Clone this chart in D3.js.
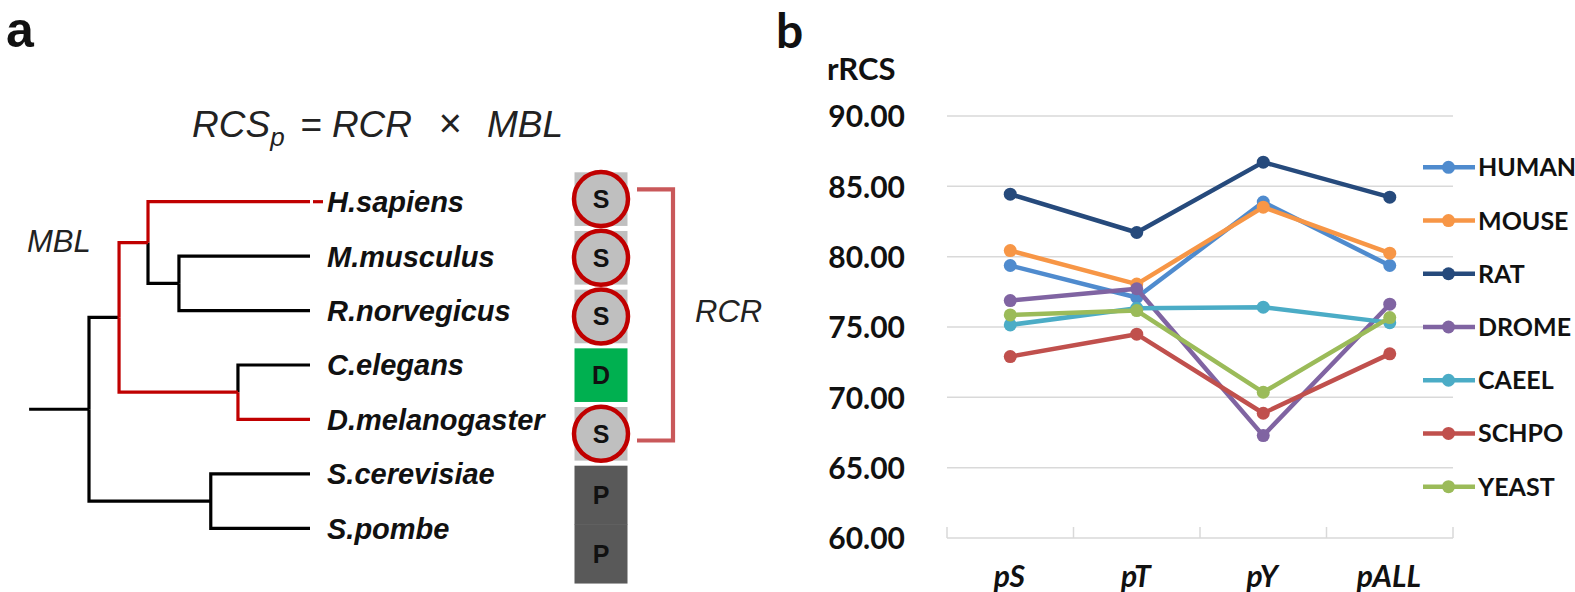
<!DOCTYPE html>
<html>
<head>
<meta charset="utf-8">
<script src="https://cdn.jsdelivr.net/npm/d3@7"></script>
<style>
  html, body { margin: 0; padding: 0; background: #fff; }
  svg { display: block; }
</style>
</head>
<body>
<svg id="chart" width="1575" height="592"></svg>
<script>
// ---------------- DATA ----------------
// Panel a: phylogenetic tree (branch lengths, relative units)
const treeData = {
  name: "root", len: 0.271, children: [
    { name: "A", len: 0.136, children: [
      { name: "Mam", len: 0.131, children: [
        { name: "H.sapiens", len: 0.733 },
        { name: "MR", len: 0.140, children: [
          { name: "M.musculus", len: 0.593 },
          { name: "R.norvegicus", len: 0.593 }
        ]}
      ]},
      { name: "CD", len: 0.538, children: [
        { name: "C.elegans", len: 0.326 },
        { name: "D.melanogaster", len: 0.326 }
      ]}
    ]},
    { name: "Y", len: 0.551, children: [
      { name: "S.cerevisiae", len: 0.449 },
      { name: "S.pombe", len: 0.449 }
    ]}
  ]
};
const highlightPair = ["H.sapiens", "D.melanogaster"];
const residueLetters = ["S", "S", "S", "D", "S", "P", "P"];
const conservedResidue = "S";

// Panel b: rRCS line chart
const categories = ["pS", "pT", "pY", "pALL"];
const seriesNames = ["HUMAN", "MOUSE", "RAT", "DROME", "CAEEL", "SCHPO", "YEAST"];
const HUMAN = [79.37, 77.10, 83.88, 79.37];
const MOUSE = [80.43, 78.05, 83.52, 80.25];
const RAT   = [84.44, 81.72, 86.72, 84.23];
const DROME = [76.88, 77.72, 67.28, 76.62];
const CAEEL = [75.15, 76.34, 76.41, 75.31];
const SCHPO = [72.90, 74.49, 68.87, 73.09];
const YEAST = [75.86, 76.17, 70.36, 75.67];
const seriesValues = [HUMAN, MOUSE, RAT, DROME, CAEEL, SCHPO, YEAST];
const yTicks = [60, 65, 70, 75, 80, 85, 90];

// ---------------- STYLE ----------------
const seriesColors = ["#4F8BCE", "#F79646", "#264A7C", "#8064A2", "#4BACC6", "#C0504D", "#9BBB59"];
const letterFill = { S: "#BFBFBF", D: "#00B050", P: "#595959" };

const svg = d3.select("#chart");
const sans = "'Liberation Sans', Arial, sans-serif";
const calib = "Lato, 'Open Sans', sans-serif";

// ================= PANEL A =================
const gA = svg.append("g");

gA.append("text").attr("x", 6).attr("y", 47)
  .attr("font-family", sans).attr("font-weight", "bold").attr("font-size", 50)
  .attr("fill", "#111").text("a");

// formula
const f = gA.append("text").attr("x", 192).attr("y", 137)
  .attr("font-family", sans).attr("font-style", "italic").attr("font-size", 37)
  .attr("fill", "#222");
f.append("tspan").text("RCS");
f.append("tspan").attr("font-size", 26).attr("dy", 9).text("p");
f.append("tspan").attr("dy", -9).attr("x", 300).text("= RCR");
f.append("tspan").attr("x", 438).attr("font-size", 40).text("\u00D7");
f.append("tspan").attr("x", 487).text("MBL");

// tree layout
const root = d3.hierarchy(treeData);
root.eachBefore(d => { d.dist = d.parent ? d.parent.dist + d.data.len : 0; });
const leaves = root.leaves();
const xT = d3.scaleLinear().domain([0, 1]).range([89, 310]);
const yT = d3.scalePoint().domain(leaves.map(d => d.data.name)).range([201.7, 528.3]);
root.eachAfter(d => {
  d.py = d.children ? (d.children[0].py + d.children[d.children.length - 1].py) / 2 : yT(d.data.name);
  d.px = xT(d.dist);
});
const leafA = leaves.find(d => d.data.name === highlightPair[0]);
const leafB = leaves.find(d => d.data.name === highlightPair[1]);
const hPath = leafA.path(leafB);
const lca = hPath.reduce((a, b) => a.depth < b.depth ? a : b);
const redSet = new Set(hPath.filter(d => d !== lca));

const red = "#C00000";
const links = root.links();
const sortedLinks = links.slice().sort((a, b) => (redSet.has(a.target) ? 1 : 0) - (redSet.has(b.target) ? 1 : 0));
gA.selectAll("path.branch").data(sortedLinks).join("path")
  .attr("class", "branch")
  .attr("d", l => `M${l.source.px},${l.source.py}V${l.target.py}H${l.target.px}`)
  .attr("fill", "none")
  .attr("stroke", l => redSet.has(l.target) ? red : "#000")
  .attr("stroke-width", 3.2);
// root stem
gA.append("path")
  .attr("d", `M${xT(-root.data.len)},${root.py}H${root.px}`)
  .attr("stroke", "#000").attr("stroke-width", 3.2);
// tiny continuation on highlighted leaf
gA.append("path")
  .attr("d", `M${leafA.px + 3},${leafA.py}H${leafA.px + 13}`)
  .attr("stroke", red).attr("stroke-width", 3.2);

// leaf labels
gA.selectAll("text.leaf").data(leaves).join("text")
  .attr("class", "leaf")
  .attr("x", 327).attr("y", d => d.py).attr("dy", "0.36em")
  .attr("font-family", sans).attr("font-weight", "bold").attr("font-style", "italic")
  .attr("font-size", 29).attr("fill", "#111")
  .text(d => d.data.name);

// MBL label
gA.append("text").attr("x", 27).attr("y", 252)
  .attr("font-family", sans).attr("font-style", "italic").attr("font-size", 31)
  .attr("fill", "#222").text("MBL");

// residue column
const yB = d3.scaleBand().domain(d3.range(residueLetters.length)).range([172.3, 578]).paddingInner(0.086).paddingOuter(0);
const boxX = 574.5, boxW = 53;
const cells = gA.selectAll("g.cell").data(residueLetters).join("g").attr("class", "cell");
cells.append("rect")
  .attr("x", boxX)
  .attr("y", (d, i) => yB(i))
  .attr("width", boxW)
  .attr("height", d => d === "P" ? yB.step() + 0.5 : yB.bandwidth())
  .attr("fill", d => letterFill[d]);
cells.each(function(d, i) {
  if (d === conservedResidue) {
    d3.select(this).append("circle")
      .attr("cx", boxX + boxW / 2)
      .attr("cy", yB(i) + yB.bandwidth() / 2)
      .attr("r", 27)
      .attr("fill", "#BFBFBF").attr("stroke", red).attr("stroke-width", 4.5);
  }
});
cells.append("text")
  .attr("x", boxX + boxW / 2)
  .attr("y", (d, i) => yB(i) + (d === "P" ? yB.step() : yB.bandwidth()) / 2)
  .attr("dy", "0.36em")
  .attr("text-anchor", "middle")
  .attr("font-family", sans).attr("font-weight", "bold").attr("font-size", 25)
  .attr("fill", "#111").text(d => d);

// bracket
const firstS = residueLetters.indexOf(conservedResidue);
const lastS = residueLetters.lastIndexOf(conservedResidue);
const bTop = yB(firstS) + 17, bBot = yB(lastS) + 33.5;
gA.append("path")
  .attr("d", `M637,${bTop}H673V${bBot}H637`)
  .attr("fill", "none").attr("stroke", "#C9585A").attr("stroke-width", 4.2);
gA.append("text").attr("x", 695).attr("y", 322)
  .attr("font-family", sans).attr("font-style", "italic").attr("font-size", 31)
  .attr("fill", "#222").text("RCR");

// ================= PANEL B =================
const gB = svg.append("g");
gB.append("text").attr("x", 776).attr("y", 48)
  .attr("font-family", calib).attr("font-weight", "bold").attr("font-size", 48)
  .attr("fill", "#111").text("b");
gB.append("text").attr("x", 827).attr("y", 80)
  .attr("font-family", calib).attr("font-weight", "bold").attr("font-size", 31)
  .attr("fill", "#111").text("rRCS");

const x = d3.scaleBand().domain(categories).range([947, 1453]);
const y = d3.scaleLinear().domain([60, 90]).range([538, 116]);

// gridlines
gB.selectAll("line.grid").data(yTicks.filter(t => t > 60)).join("line")
  .attr("class", "grid")
  .attr("x1", 947).attr("x2", 1453)
  .attr("y1", d => y(d)).attr("y2", d => y(d))
  .attr("stroke", "#D9D9D9").attr("stroke-width", 1.5);

// y axis labels
const yAxis = d3.axisLeft(y).tickValues(yTicks).tickFormat(d3.format(".2f")).tickSize(0).tickPadding(0);
const yAxG = gB.append("g").attr("transform", "translate(905,0)").call(yAxis);
yAxG.select(".domain").remove();
yAxG.selectAll("text")
  .attr("font-family", calib).attr("font-weight", "bold").attr("font-size", 30)
  .attr("fill", "#111").attr("dy", "0.36em");

// x axis
const xAxG = gB.append("g").attr("transform", "translate(0,538)");
xAxG.append("line").attr("x1", 947).attr("x2", 1453).attr("stroke", "#D9D9D9").attr("stroke-width", 1.5);
const bounds = categories.map(c => x(c)).concat([x(categories[categories.length - 1]) + x.bandwidth()]);
xAxG.selectAll("line.tick").data(bounds).join("line")
  .attr("class", "tick")
  .attr("x1", d => d).attr("x2", d => d).attr("y1", 0).attr("y2", -11)
  .attr("stroke", "#D9D9D9").attr("stroke-width", 1.5);
xAxG.selectAll("text").data(categories).join("text")
  .attr("x", d => x(d) + x.bandwidth() / 2 - 1).attr("y", 49)
  .attr("text-anchor", "middle")
  .attr("font-family", calib).attr("font-weight", "bold").attr("font-style", "italic")
  .attr("font-size", 30).attr("fill", "#111").text(d => d);

// lines
const line = d3.line().x((d, i) => x(categories[i]) + x.bandwidth() / 2).y(d => y(d));
const series = seriesNames.map((n, k) => ({ name: n, values: seriesValues[k], color: seriesColors[k] }));
const sg = gB.selectAll("g.series").data(series).join("g").attr("class", "series");
sg.append("path")
  .attr("d", d => line(d.values))
  .attr("fill", "none").attr("stroke", d => d.color)
  .attr("stroke-width", 4.5).attr("stroke-linejoin", "round");
sg.selectAll("circle").data(d => d.values.map((v, i) => ({ v, i, color: d.color }))).join("circle")
  .attr("cx", d => x(categories[d.i]) + x.bandwidth() / 2)
  .attr("cy", d => y(d.v))
  .attr("r", 6.5).attr("fill", d => d.color);

// legend
const ly = d3.scalePoint().domain(seriesNames).range([167.3, 486.7]);
const lg = gB.selectAll("g.leg").data(series).join("g").attr("class", "leg")
  .attr("transform", d => `translate(0,${ly(d.name)})`);
lg.append("line").attr("x1", 1423).attr("x2", 1475)
  .attr("stroke", d => d.color).attr("stroke-width", 4.5);
lg.append("circle").attr("cx", 1448.5).attr("r", 6.5).attr("fill", d => d.color);
lg.append("text").attr("x", 1478).attr("dy", "0.36em")
  .attr("font-family", calib).attr("font-weight", "bold").attr("font-size", 25)
  .attr("fill", "#111").text(d => d.name);
</script>
</body>
</html>
